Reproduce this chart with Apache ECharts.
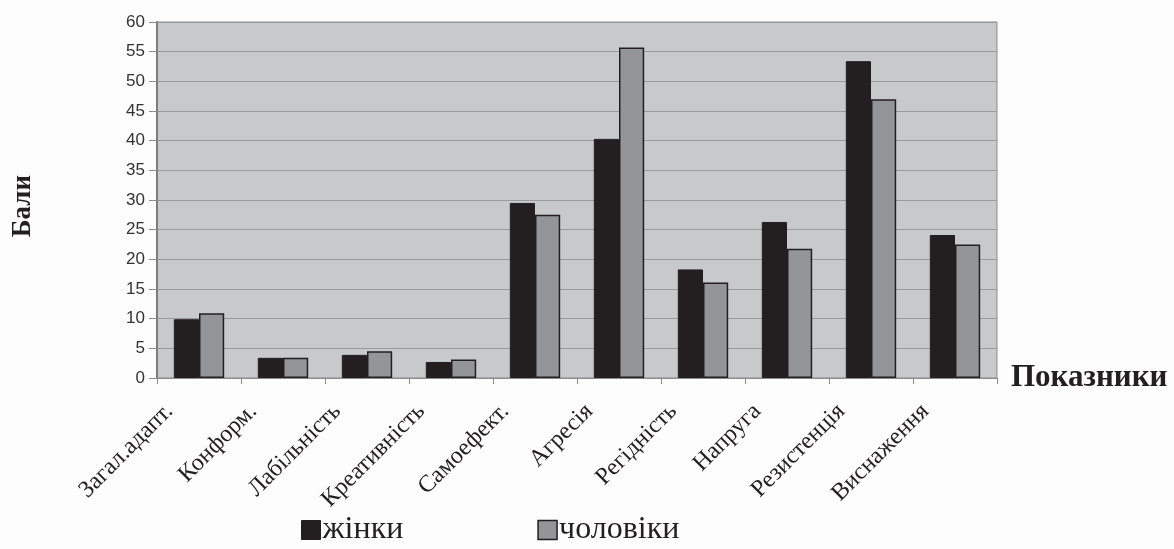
<!DOCTYPE html>
<html><head><meta charset="utf-8">
<script src="https://cdn.jsdelivr.net/npm/echarts@6/dist/echarts.min.js"></script>
<style>html,body{margin:0;padding:0;background:#fdfdfd;}#c{width:1174px;height:549px;}</style>
</head><body><div id="c"></div>
<script>
const categories = ['Загал.адапт.', 'Конформ.', 'Лабільність', 'Креативність', 'Самоефект.', 'Агресія', 'Регідність', 'Напруга', 'Резистенція', 'Виснаження'];
const women = [9.9, 3.4, 3.9, 2.7, 29.5, 40.3, 18.3, 26.3, 53.4, 24.1];
const men = [10.9, 3.4, 4.5, 3.1, 27.5, 55.7, 16.1, 21.8, 47.0, 22.5];
const yTicks = { min: 0, max: 60, interval: 5 };

const chart = echarts.init(document.getElementById('c'));
chart.setOption({
  backgroundColor: '#fdfdfd',
  animation: false,
  grid: { left: 157, right: 177, top: 22, bottom: 171, show: true, backgroundColor: '#c8c9cb', borderColor: '#8c8c8c', borderWidth: 1 },
  legend: {
    top: 509, left: 296, itemGap: 134, itemWidth: 19, itemHeight: 19, icon: 'rect',
    textStyle: { fontFamily: 'Liberation Serif', fontSize: 32, color: '#231f20', padding: [0, 0, 0, -3] },
    data: [
      { name: 'жінки', itemStyle: { color: '#231f20', borderColor: '#231f20', borderWidth: 1 } },
      { name: 'чоловіки', itemStyle: { color: '#939598', borderColor: '#231f20', borderWidth: 1.5 } }
    ]
  },
  graphic: [{
    type: 'text', left: 10, top: 175, rotation: Math.PI / 2,
    style: { text: 'Бали', fontFamily: 'Liberation Serif', fontWeight: 'bold', fontSize: 27, fill: '#231f20' }
  }],
  xAxis: {
    type: 'category', data: categories,
    name: 'Показники', nameLocation: 'end', nameGap: 14,
    nameTextStyle: { fontFamily: 'Liberation Serif', fontWeight: 'bold', fontSize: 31, color: '#231f20', verticalAlign: 'middle' },
    axisLine: { lineStyle: { color: '#8c8c8c', width: 1 } },
    axisTick: { show: true, length: 6, lineStyle: { color: '#8c8c8c' } },
    axisLabel: { rotate: 45, interval: 0, margin: 0, padding: [0, 42, 0, 0], fontFamily: 'Liberation Serif', fontSize: 24, color: '#231f20' }
  },
  yAxis: {
    type: 'value', min: yTicks.min, max: yTicks.max, interval: yTicks.interval,
    axisLine: { show: true, lineStyle: { color: '#7c7c7c', width: 2 } },
    axisTick: { show: true, length: 8, lineStyle: { color: '#8c8c8c' } },
    axisLabel: { fontFamily: 'Liberation Sans', fontSize: 17, color: '#333', margin: 12 },
    splitLine: { lineStyle: { color: '#999a9c', width: 1 } }
  },
  series: [
    { name: 'жінки', type: 'bar', data: women, barGap: '0%', barCategoryGap: '40%',
      itemStyle: { color: '#231f20', borderColor: '#231f20', borderWidth: 1 } },
    { name: 'чоловіки', type: 'bar', data: men,
      itemStyle: { color: '#939598', borderColor: '#231f20', borderWidth: 1.5 } }
  ]
});
</script></body></html>
